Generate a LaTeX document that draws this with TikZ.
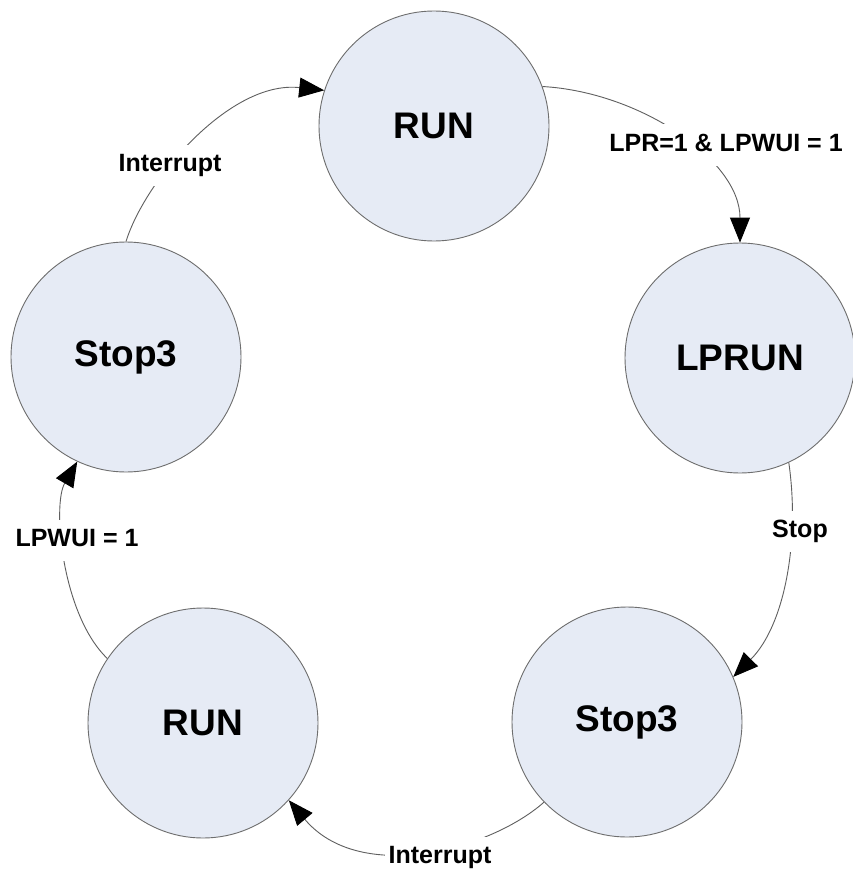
\documentclass[tikz,border=0pt]{standalone}
\usepackage{fontspec}
\setmainfont{Liberation Sans}
\usetikzlibrary{arrows.meta}
\definecolor{statefill}{RGB}{230,235,245}
\definecolor{stateline}{RGB}{110,110,110}
\definecolor{wire}{RGB}{95,95,95}
\begin{document}
\begin{tikzpicture}[x=1pt,y=-1pt,
  state/.style={circle, draw=stateline, line width=0.9pt, fill=statefill,
    minimum size=230pt, inner sep=0pt, font=\fontsize{37}{44}\selectfont\bfseries},
  trans/.style={draw=wire, line width=0.9pt,
    -{Triangle[length=25pt,width=20pt,color=black]}},
  cond/.style={fill=white, inner xsep=4pt, inner ysep=9pt, text height=18pt,
    text depth=5pt, font=\fontsize{25}{30}\selectfont\bfseries}]

% canvas
\path[use as bounding box, fill=white] (0,0) rectangle (853,872);

% states
\node[state] (run)    at (434,126) {RUN};
\node[state] (lprun)  at (740,358) {LPRUN};
\node[state] (stopr)  at (627,722) {Stop3};
\node[state] (runbl)  at (203,723) {RUN};
\node[state] (stopl)  at (126,357) {Stop3};

% transitions
\draw[trans] (run.20)    .. controls (640,92)  and (740,160) .. (lprun.north);
\draw[trans] (lprun.-65) .. controls (800,540) and (785,625) .. (stopr.23);
\draw[trans] (stopr.-136) .. controls (490,850) and (360,885) .. (runbl.-42);
\draw[trans] (runbl.146) .. controls (62,615)  and (52,505)  .. (stopl.-115);
\draw[trans] (stopl.north) .. controls (145,180) and (230,80) .. (run.162);

% conditions
\node[cond] (c1) at (726,145) {LPR=1 \& LPWUI = 1};
\node[cond] (c2) at (800,531) {Stop};
\node[cond] (c3) at (440,857) {Interrupt};
\node[cond] (c4) at (77,540)  {LPWUI = 1};
\node[cond] (c5) at (170,165) {Interrupt};
\end{tikzpicture}
\end{document}
